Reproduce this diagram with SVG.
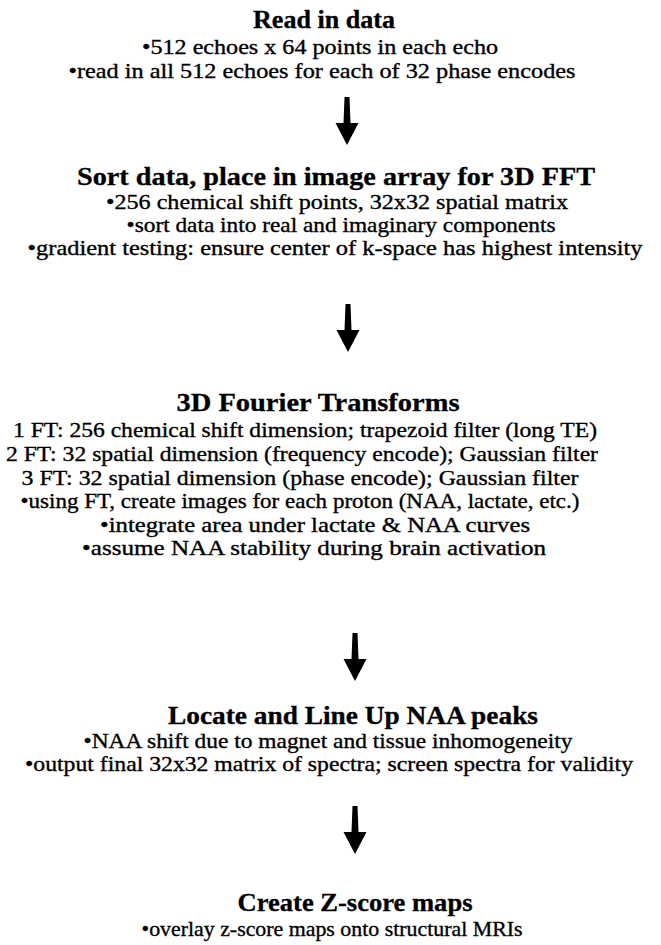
<svg xmlns="http://www.w3.org/2000/svg" width="661" height="945" viewBox="0 0 661 945">
<style>
.t{font-family:"Liberation Serif","Times New Roman",serif;font-weight:bold;font-size:25px;fill:#000;stroke:#000;stroke-width:0.3;text-anchor:middle}
.b{font-family:"Liberation Serif","Times New Roman",serif;font-size:21.5px;fill:#000;stroke:#000;stroke-width:0.35;text-anchor:middle}
.arr{fill:#000}
</style>
<defs>
<path id="arrow" d="M-2.5,0 L2.5,0 L3.5,26 L11.5,26 L0,48 L-11.5,26 L-3.5,26 Z"/>
</defs>
<rect width="661" height="945" fill="#fff"/>
<g id="read">
<text class="t" x="324" y="28" textLength="142" lengthAdjust="spacingAndGlyphs">Read in data</text>
<text class="b" x="320" y="54" textLength="356" lengthAdjust="spacingAndGlyphs">•512 echoes x 64 points in each echo</text>
<text class="b" x="322" y="78" textLength="507" lengthAdjust="spacingAndGlyphs">•read in all 512 echoes for each of 32 phase encodes</text>
</g>
<g id="sort">
<text class="t" x="336" y="185" textLength="518" lengthAdjust="spacingAndGlyphs">Sort data, place in image array for 3D FFT</text>
<text class="b" x="337" y="209" textLength="462" lengthAdjust="spacingAndGlyphs">•256 chemical shift points, 32x32 spatial matrix</text>
<text class="b" x="341" y="232" textLength="429" lengthAdjust="spacingAndGlyphs">•sort data into real and imaginary components</text>
<text class="b" x="335" y="255" textLength="615" lengthAdjust="spacingAndGlyphs">•gradient testing:  ensure center of k-space has highest intensity</text>
</g>
<g id="fourier">
<text class="t" x="318" y="411" textLength="283" lengthAdjust="spacingAndGlyphs">3D Fourier Transforms</text>
<text class="b" x="305" y="437" textLength="584" lengthAdjust="spacingAndGlyphs">1 FT:  256 chemical shift dimension; trapezoid filter (long TE)</text>
<text class="b" x="302" y="461" textLength="592" lengthAdjust="spacingAndGlyphs">2 FT:  32 spatial dimension (frequency encode); Gaussian filter</text>
<text class="b" x="300" y="485" textLength="557" lengthAdjust="spacingAndGlyphs">3 FT:  32 spatial dimension (phase encode); Gaussian filter</text>
<text class="b" x="300" y="508" textLength="559" lengthAdjust="spacingAndGlyphs">•using FT, create images for each proton (NAA, lactate, etc.)</text>
<text class="b" x="315" y="532" textLength="430" lengthAdjust="spacingAndGlyphs">•integrate area under lactate &amp; NAA curves</text>
<text class="b" x="314" y="555" textLength="464" lengthAdjust="spacingAndGlyphs">•assume NAA stability during brain activation</text>
</g>
<g id="locate">
<text class="t" x="353" y="724" textLength="370" lengthAdjust="spacingAndGlyphs">Locate and Line Up NAA peaks</text>
<text class="b" x="328" y="748" textLength="489" lengthAdjust="spacingAndGlyphs">•NAA shift due to magnet and tissue inhomogeneity</text>
<text class="b" x="329" y="771" textLength="608" lengthAdjust="spacingAndGlyphs">•output final 32x32 matrix of spectra; screen spectra for validity</text>
</g>
<g id="zscore">
<text class="t" x="355" y="911" textLength="235" lengthAdjust="spacingAndGlyphs">Create Z-score maps</text>
<text class="b" x="332" y="936" textLength="381" lengthAdjust="spacingAndGlyphs">•overlay z-score maps onto structural MRIs</text>
</g>
<g id="connectors">
<use href="#arrow" class="arr" x="347" y="97"/>
<use href="#arrow" class="arr" x="348" y="304"/>
<use href="#arrow" class="arr" x="355" y="633"/>
<use href="#arrow" class="arr" x="355" y="806"/>
</g>
</svg>
